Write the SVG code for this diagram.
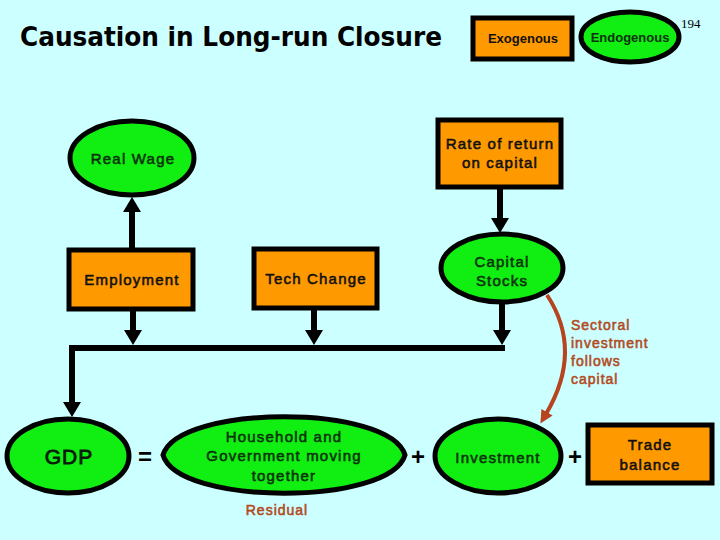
<svg xmlns="http://www.w3.org/2000/svg" width="720" height="540" viewBox="0 0 720 540">
<defs>
<style>
.bg{fill:#CCFFFF}
.box{fill:#FF9900;stroke:#000;stroke-width:5}
.ell{fill:#11EE11;stroke:#000;stroke-width:5}
.t{font-family:"Liberation Sans",Arial,sans-serif;font-size:15px;letter-spacing:1.2px;text-anchor:middle;fill:#111;stroke:#111;stroke-width:0.55px}
.tg{fill:#0b330b;stroke:#0b330b}
.small{font-family:"Liberation Sans",Arial,sans-serif;font-size:13px;font-weight:bold;text-anchor:middle}
.conn{stroke:#000;stroke-width:6;fill:none}
.note{font-family:"Liberation Sans",Arial,sans-serif;font-size:14px;letter-spacing:1px;fill:#B24A22;stroke:#B24A22;stroke-width:0.55px}
.op{font-family:"Liberation Sans",Arial,sans-serif;font-size:24px;font-weight:bold;text-anchor:middle;fill:#000}
</style>
<marker id="ah" markerUnits="userSpaceOnUse" markerWidth="20" markerHeight="20" viewBox="0 -10 16 20" refX="0" refY="0" orient="auto">
<path d="M0,-9 L15,0 L0,9 Z" fill="#000"/>
</marker>
<marker id="ahb" markerUnits="userSpaceOnUse" markerWidth="16" markerHeight="16" viewBox="0 -8 14 16" refX="2" refY="0" orient="auto">
<path d="M0,-6.5 L13,0 L0,6.5 Z" fill="#B5441F"/>
</marker>
</defs>
<rect class="bg" x="0" y="0" width="720" height="540"/>

<text x="20" y="46" font-family="'DejaVu Sans','Liberation Sans',sans-serif" font-size="26" font-weight="bold" textLength="422" lengthAdjust="spacingAndGlyphs" fill="#000">Causation in Long-run Closure</text>

<g id="legend-exogenous">
<rect class="box" x="473" y="18" width="99" height="41" stroke-width="4.5"/>
<text class="small" x="523" y="43" fill="#111">Exogenous</text>
</g>
<g id="legend-endogenous">
<ellipse class="ell" cx="630" cy="37" rx="49" ry="25" stroke-width="4.5"/>
<text class="small" x="630" y="42" fill="#0b330b">Endogenous</text>
</g>
<text x="681" y="28" font-family="'Liberation Serif',serif" font-size="13" fill="#000">194</text>

<g id="connectors">
<line class="conn" x1="500" y1="188" x2="500" y2="218" marker-end="url(#ah)"/>
<line class="conn" x1="132" y1="249" x2="132" y2="212" marker-end="url(#ah)"/>
<line class="conn" x1="133" y1="310" x2="133" y2="330" marker-end="url(#ah)"/>
<line class="conn" x1="314" y1="309" x2="314" y2="330" marker-end="url(#ah)"/>
<line class="conn" x1="502" y1="303" x2="502" y2="330" marker-end="url(#ah)"/>
<polyline class="conn" points="505,348 72,348 72,402" marker-end="url(#ah)"/>
<path d="M547,295 C570,330 572,370 546,414" fill="none" stroke="#B5441F" stroke-width="4" marker-end="url(#ahb)"/>
</g>

<g id="rate-of-return">
<rect class="box" x="438" y="120" width="123" height="67"/>
<text class="t" x="500" y="149">Rate of return</text>
<text class="t" x="500" y="168">on capital</text>
</g>
<g id="real-wage">
<ellipse class="ell" cx="132" cy="158" rx="62" ry="37"/>
<text class="t tg" x="133" y="164">Real Wage</text>
</g>
<g id="employment">
<rect class="box" x="69" y="250" width="124" height="59"/>
<text class="t" x="132" y="285">Employment</text>
</g>
<g id="tech-change">
<rect class="box" x="254" y="249" width="123" height="59"/>
<text class="t" x="316" y="284">Tech Change</text>
</g>
<g id="capital-stocks">
<ellipse class="ell" cx="502" cy="268" rx="61" ry="34"/>
<text class="t tg" x="502" y="267">Capital</text>
<text class="t tg" x="502" y="286">Stocks</text>
</g>
<g id="gdp">
<ellipse class="ell" cx="68" cy="456" rx="61" ry="37"/>
<text x="69" y="464" font-family="'Liberation Sans',Arial,sans-serif" font-size="21" letter-spacing="1" text-anchor="middle" fill="#0b1a0b" stroke="#0b1a0b" stroke-width="0.8">GDP</text>
</g>
<text class="op" x="145" y="465">=</text>
<g id="household">
<path class="ell" d="M163,455 C178,404 390,404 405,455 C390,506 178,506 163,455 Z"/>
<text class="t tg" x="284" y="442">Household and</text>
<text class="t tg" x="284" y="461">Government moving</text>
<text class="t tg" x="284" y="481">together</text>
</g>
<text class="note" x="277" y="515" text-anchor="middle" font-size="15">Residual</text>
<text class="op" x="418" y="465">+</text>
<g id="investment">
<ellipse class="ell" cx="498" cy="456" rx="63" ry="37"/>
<text class="t tg" x="498" y="463">Investment</text>
</g>
<text class="op" x="575" y="465">+</text>
<g id="trade-balance">
<rect class="box" x="588" y="425" width="124" height="58"/>
<text class="t" x="650" y="450">Trade</text>
<text class="t" x="650" y="470">balance</text>
</g>
<g id="note">
<text class="note" x="571" y="330">Sectoral</text>
<text class="note" x="571" y="348">investment</text>
<text class="note" x="571" y="366">follows</text>
<text class="note" x="571" y="384">capital</text>
</g>
</svg>
